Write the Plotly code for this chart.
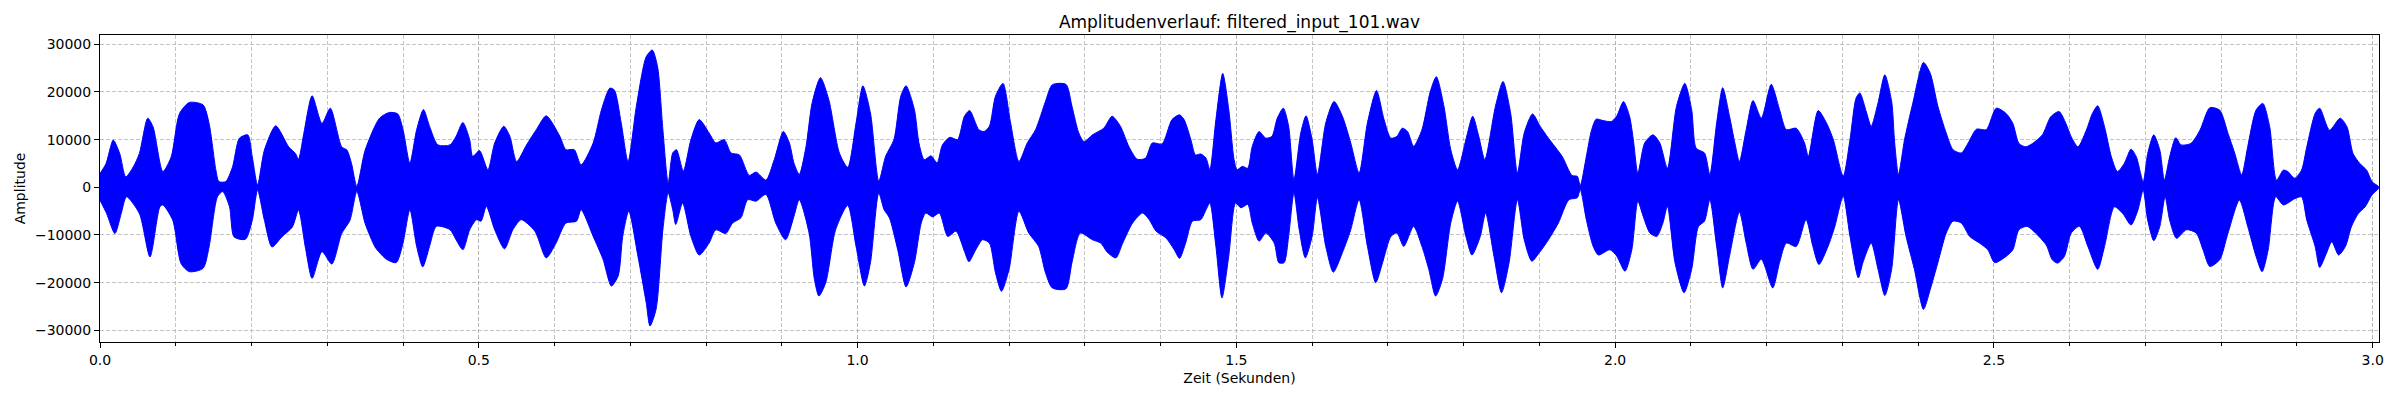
import plotly.graph_objects as go

# Hüllkurve des Signals (obere Spitzen), Zeit in Sekunden
t_upper = [0.000, 0.008, 0.0175, 0.026, 0.034, 0.044, 0.052, 0.063, 0.070, 0.083, 0.094, 0.105, 0.118, 0.136, 0.144,
           0.153, 0.157, 0.166, 0.175, 0.184, 0.195, 0.201, 0.208, 0.217, 0.232, 0.249, 0.258, 0.262, 0.269, 0.280,
           0.293, 0.304, 0.319, 0.326, 0.332, 0.339, 0.350, 0.369, 0.382, 0.393, 0.400, 0.409, 0.418, 0.427, 0.435,
           0.446, 0.462, 0.470, 0.479, 0.488, 0.492, 0.501, 0.512, 0.521, 0.533, 0.541, 0.550, 0.563, 0.576, 0.589,
           0.607, 0.615, 0.626, 0.635, 0.651, 0.662, 0.673, 0.679, 0.688, 0.697, 0.708, 0.721, 0.729, 0.736, 0.743,
           0.750, 0.756, 0.761, 0.770, 0.780, 0.791, 0.804, 0.813, 0.824, 0.833, 0.844, 0.857, 0.866, 0.879, 0.890,
           0.902, 0.910, 0.916, 0.923, 0.932, 0.940, 0.951, 0.962, 0.976, 0.987, 0.998, 1.007, 1.017, 1.028, 1.037,
           1.048, 1.057, 1.064, 1.075, 1.081, 1.088, 1.097, 1.105, 1.112, 1.122, 1.132, 1.141, 1.148, 1.160, 1.167,
           1.174, 1.182, 1.192, 1.202, 1.213, 1.224, 1.235, 1.248, 1.257, 1.275, 1.283, 1.292, 1.299, 1.310, 1.325,
           1.336, 1.347, 1.358, 1.369, 1.380, 1.389, 1.402, 1.415, 1.425, 1.431, 1.440, 1.446, 1.453, 1.460, 1.465,
           1.473, 1.482, 1.490, 1.497, 1.501, 1.508, 1.515, 1.521, 1.530, 1.539, 1.547, 1.554, 1.562, 1.569, 1.576,
           1.585, 1.592, 1.600, 1.607, 1.618, 1.629, 1.640, 1.651, 1.662, 1.673, 1.685, 1.695, 1.704, 1.712, 1.719,
           1.726, 1.734, 1.745, 1.756, 1.764, 1.774, 1.783, 1.792, 1.803, 1.812, 1.820, 1.828, 1.842, 1.852, 1.862,
           1.871, 1.880, 1.891, 1.901, 1.912, 1.930, 1.943, 1.950, 1.954, 1.962, 1.969, 1.975, 1.984, 1.995, 2.002,
           2.011, 2.019, 2.024, 2.030, 2.039, 2.050, 2.059, 2.069, 2.081, 2.092, 2.101, 2.107, 2.118, 2.125, 2.134,
           2.142, 2.151, 2.158, 2.164, 2.173, 2.182, 2.193, 2.206, 2.217, 2.226, 2.239, 2.250, 2.255, 2.268, 2.279,
           2.288, 2.301, 2.310, 2.318, 2.323, 2.332, 2.338, 2.347, 2.356, 2.365, 2.369, 2.374, 2.382, 2.393, 2.407,
           2.416, 2.426, 2.437, 2.446, 2.457, 2.466, 2.477, 2.490, 2.503, 2.516, 2.525, 2.533, 2.542, 2.551, 2.564,
           2.575, 2.586, 2.595, 2.602, 2.611, 2.622, 2.630, 2.637, 2.646, 2.655, 2.663, 2.672, 2.681, 2.688, 2.697,
           2.703, 2.711, 2.719, 2.725, 2.732, 2.740, 2.747, 2.760, 2.772, 2.785, 2.798, 2.809, 2.818, 2.827, 2.835,
           2.846, 2.855, 2.864, 2.873, 2.882, 2.888, 2.897, 2.906, 2.913, 2.924, 2.930, 2.943, 2.957, 2.966, 2.974,
           2.983, 2.992, 2.999, 3.008]
a_upper = [2900, 5000, 9900, 7100, 2200, 4300, 7100, 14500, 12700, 3300, 6400, 15500, 17800, 17300, 13400,
           3600, 1200, 1200, 4300, 10300, 11000, 6400, 500, 7800, 12900, 8500, 7100, 5900, 11300, 19200,
           13400, 16600, 8500, 7800, 5000, 200, 7800, 14500, 15700, 15400, 12100, 5100, 12100, 16300, 12800,
           8900, 8900, 10700, 13600, 10000, 6500, 7700, 3700, 9300, 12800, 10700, 5400, 8900, 12100, 15000,
           10700, 7900, 7900, 4700, 9300, 16300, 20800, 20400, 13500, 5400, 17000, 27400, 28800, 25300, 12100,
           900, 7200, 7900, 3400, 10000, 14200, 11400, 9300, 10000, 7200, 6800, 2500, 3200, 1500, 5800,
           11700, 9300, 5100, 2700, 8600, 17700, 23000, 18400, 7200, 4200, 13500, 21300, 15600, 1300, 6500,
           10000, 19100, 21300, 16300, 9300, 5800, 6600, 5100, 8900, 10500, 10000, 14900, 16100, 12100, 11700,
           12800, 19100, 21800, 13500, 5400, 9300, 12100, 18000, 21500, 21600, 17000, 11400, 9600, 11000, 12400,
           14900, 12800, 8600, 5900, 6100, 9300, 9100, 14200, 15200, 14200, 10000, 6800, 7000, 6100, 3700,
           14200, 23900, 16300, 5800, 3700, 4400, 4000, 8600, 11700, 10300, 10700, 14500, 16600, 12800, 1600,
           11400, 15000, 10000, 2700, 13500, 18000, 14900, 9300, 3000, 13500, 20300, 14200, 10300, 10700, 12400,
           11700, 8600, 12100, 20100, 23200, 17000, 7900, 3700, 10000, 14900, 10700, 5800, 17000, 22200, 15600,
           3000, 11400, 15400, 12800, 10300, 6500, 2500, 2300, 400, 6500, 12100, 14300, 14000, 13800, 14900,
           18000, 14900, 10000, 3000, 9300, 11000, 9300, 4000, 17000, 21800, 16300, 8200, 7200, 2700, 13500,
           20900, 14900, 9300, 5400, 12100, 18200, 14500, 21600, 16300, 12100, 12400, 9300, 6500, 16100, 13500,
           10000, 2300, 10000, 18700, 19800, 15600, 12800, 17700, 23600, 18000, 9300, 2700, 10000, 17700, 26200,
           23900, 17000, 11400, 7900, 7200, 9300, 12200, 12100, 16600, 15500, 13400, 9200, 8500, 9200, 11000,
           14800, 15900, 13400, 10600, 8500, 12000, 15500, 17100, 12700, 6400, 3300, 5000, 8000, 6400, 1200,
           7100, 11000, 7800, 1500, 6400, 10400, 8900, 9200, 12000, 16700, 16200, 11300, 7100, 2600, 8500,
           16200, 17600, 12700, 1500, 3600, 3300, 1900, 3600, 8500, 15500, 16600, 12000, 14500, 12700, 7100,
           5000, 3600, 1200, 100]

# Hüllkurve des Signals (untere Spitzen)
t_lower = [0.000, 0.0087, 0.0197, 0.028, 0.035, 0.052, 0.066, 0.079, 0.083, 0.096, 0.107, 0.118, 0.136, 0.144, 0.155,
           0.162, 0.171, 0.177, 0.192, 0.201, 0.208, 0.217, 0.227, 0.240, 0.254, 0.262, 0.271, 0.280, 0.293, 0.306,
           0.319, 0.330, 0.339, 0.350, 0.363, 0.369, 0.378, 0.391, 0.400, 0.409, 0.418, 0.426, 0.435, 0.444, 0.462,
           0.470, 0.479, 0.488, 0.497, 0.503, 0.510, 0.521, 0.534, 0.545, 0.556, 0.574, 0.589, 0.602, 0.615, 0.629,
           0.635, 0.651, 0.664, 0.675, 0.684, 0.690, 0.698, 0.710, 0.721, 0.726, 0.734, 0.743, 0.750, 0.756, 0.760,
           0.769, 0.780, 0.791, 0.804, 0.813, 0.826, 0.835, 0.846, 0.855, 0.866, 0.879, 0.892, 0.905, 0.916, 0.923,
           0.936, 0.943, 0.949, 0.958, 0.971, 0.987, 0.998, 1.009, 1.017, 1.028, 1.035, 1.042, 1.053, 1.064, 1.075,
           1.084, 1.090, 1.099, 1.108, 1.119, 1.130, 1.141, 1.147, 1.156, 1.165, 1.174, 1.182, 1.190, 1.200, 1.213,
           1.226, 1.239, 1.248, 1.257, 1.275, 1.283, 1.294, 1.310, 1.321, 1.330, 1.341, 1.350, 1.363, 1.376, 1.385,
           1.394, 1.407, 1.418, 1.425, 1.433, 1.442, 1.453, 1.460, 1.465, 1.473, 1.481, 1.490, 1.499, 1.506, 1.515,
           1.521, 1.530, 1.539, 1.550, 1.556, 1.563, 1.569, 1.576, 1.583, 1.591, 1.600, 1.607, 1.618, 1.628, 1.640,
           1.651, 1.662, 1.673, 1.684, 1.693, 1.704, 1.712, 1.721, 1.734, 1.745, 1.754, 1.763, 1.772, 1.783, 1.792,
           1.803, 1.811, 1.822, 1.829, 1.840, 1.850, 1.860, 1.871, 1.880, 1.890, 1.900, 1.912, 1.925, 1.939, 1.950,
           1.954, 1.962, 1.971, 1.978, 1.993, 2.002, 2.013, 2.022, 2.030, 2.037, 2.046, 2.055, 2.063, 2.069, 2.079,
           2.091, 2.101, 2.110, 2.118, 2.125, 2.134, 2.142, 2.151, 2.164, 2.173, 2.182, 2.193, 2.208, 2.217, 2.226,
           2.239, 2.252, 2.261, 2.269, 2.281, 2.290, 2.301, 2.310, 2.321, 2.327, 2.338, 2.347, 2.356, 2.365, 2.374,
           2.384, 2.395, 2.407, 2.416, 2.426, 2.437, 2.446, 2.457, 2.468, 2.481, 2.492, 2.501, 2.516, 2.525, 2.533,
           2.544, 2.555, 2.569, 2.577, 2.584, 2.593, 2.602, 2.613, 2.624, 2.637, 2.646, 2.659, 2.670, 2.681, 2.690,
           2.697, 2.703, 2.711, 2.719, 2.726, 2.732, 2.741, 2.754, 2.767, 2.776, 2.785, 2.798, 2.809, 2.824, 2.835,
           2.846, 2.854, 2.862, 2.872, 2.882, 2.897, 2.906, 2.913, 2.924, 2.930, 2.939, 2.946, 2.955, 2.964, 2.972,
           2.981, 2.990, 2.999, 3.008]
a_lower = [-2700, -5500, -9700, -5500, -2000, -5500, -14600, -4100, -3700, -6900, -16000, -17700, -17000, -12500, -2000,
           -900, -4100, -10400, -10900, -6900, -600, -6900, -12500, -10400, -8300, -4800, -12500, -19100, -13500, -16100,
           -9700, -6900, -900, -7600, -12500, -13700, -15100, -15800, -11700, -4700, -12400, -16700, -12400, -8200, -8900,
           -11000, -13100, -8900, -6800, -7100, -4000, -8900, -12900, -8900, -6800, -9200, -14800, -11700, -7500, -7100,
           -4700, -10300, -15100, -20700, -18600, -10300, -5000, -14400, -24200, -29100, -25600, -8900, -1200, -4700, -7800,
           -3300, -10300, -14200, -11700, -8900, -9700, -7500, -6400, -2600, -2900, -1500, -7500, -11000, -6100, -2600,
           -9600, -19300, -22800, -20000, -8900, -3800, -12400, -20700, -15800, -1200, -4700, -6400, -13100, -20900, -15800,
           -7500, -5400, -6200, -5400, -10300, -9200, -13400, -15600, -13100, -11000, -11700, -17900, -21800, -17200, -5000,
           -9600, -12400, -17900, -21100, -21300, -15800, -9600, -11000, -11700, -13700, -14800, -11700, -7500, -5400, -6800,
           -9200, -10600, -13100, -14900, -11700, -7100, -6800, -4700, -3300, -12400, -23200, -14400, -3300, -4300, -3600,
           -7500, -11300, -9600, -11700, -15800, -15800, -10300, -1200, -8900, -14800, -10300, -2200, -12400, -17800, -13700,
           -8900, -2600, -12400, -20000, -15800, -10300, -9600, -12400, -8200, -12400, -17200, -22800, -19300, -7500, -2900,
           -10300, -14200, -10300, -5400, -14400, -22100, -15800, -2600, -11000, -15500, -13700, -11000, -7500, -2600, -2200,
           -500, -6800, -12400, -14200, -13100, -14400, -17600, -13100, -2900, -6100, -9600, -10300, -7500, -4000, -15800,
           -22100, -17200, -8200, -7100, -2600, -12400, -21100, -14400, -5200, -11700, -17200, -15100, -21100, -15800, -11700,
           -12400, -6800, -12400, -16200, -12400, -8200, -1900, -10300, -19000, -15800, -11700, -17200, -22700, -17200, -2600,
           -10300, -17200, -25600, -21400, -15800, -9600, -7100, -7500, -10300, -11700, -13100, -15800, -14500, -13100, -8900,
           -8200, -9600, -12100, -15200, -15900, -14500, -9600, -8200, -12400, -17200, -12400, -4100, -5500, -7900, -4800,
           -600, -6900, -11200, -8200, -2000, -6900, -10700, -8900, -9600, -13100, -16600, -15200, -9600, -2700, -8200,
           -14500, -17700, -13100, -2000, -3700, -2400, -2000, -6900, -12400, -16800, -13800, -11400, -14200, -12400, -8200,
           -5500, -4100, -1600, -200]

x_ticks = [0.0, 0.5, 1.0, 1.5, 2.0, 2.5, 3.0]
y_ticks = [-30000, -20000, -10000, 0, 10000, 20000, 30000]

# geschlossene Fläche: oben vorwärts, unten rückwärts
poly_x = t_upper + t_lower[::-1]
poly_y = a_upper + a_lower[::-1]

fig = go.Figure()
fig.add_trace(go.Scatter(
    x=poly_x, y=poly_y,
    mode='lines',
    fill='toself',
    fillcolor='#0000ff',
    line=dict(color='#0000ff', width=1, shape='spline', smoothing=0.7),
    hoverinfo='skip',
    showlegend=False,
))

axis_font = dict(family='DejaVu Sans', size=14, color='black')
grid_col = 'rgba(176,176,176,0.75)'
grid_dash = '4px,2px'

fig.update_xaxes(
    range=[0, 3.0083],
    tickvals=x_ticks,
    ticktext=['%.1f' % v for v in x_ticks],
    ticks='outside', ticklen=5, tickwidth=1, tickcolor='black',
    showline=True, linecolor='black', linewidth=1, mirror=True,
    showgrid=True, gridcolor=grid_col, griddash=grid_dash, gridwidth=1,
    minor=dict(dtick=0.1, tick0=0, ticks='outside', ticklen=3, tickcolor='black',
               showgrid=True, gridcolor=grid_col, griddash=grid_dash, gridwidth=1),
    zeroline=False,
    automargin=False,
    tickfont=axis_font,
    title=dict(text='Zeit (Sekunden)', font=axis_font, standoff=6),
)
fig.update_yaxes(
    range=[-32450, 31950],
    tickvals=y_ticks,
    ticktext=[str(v).replace('-', '\u2212') for v in y_ticks],
    ticks='outside', ticklen=5, tickwidth=1, tickcolor='black',
    showline=True, linecolor='black', linewidth=1, mirror=True,
    showgrid=True, gridcolor=grid_col, griddash=grid_dash, gridwidth=1,
    zeroline=False,
    automargin=False,
    tickfont=axis_font,
    title=dict(text='Amplitude', font=axis_font, standoff=6),
)

fig.update_layout(
    width=2400, height=400,
    margin=dict(l=100, r=21, t=35, b=58),
    paper_bgcolor='white', plot_bgcolor='white',
    title=dict(text='Amplitudenverlauf: filtered_input_101.wav',
               font=dict(family='DejaVu Sans', size=17, color='black'),
               x=0.5, xref='paper', xanchor='center',
               y=1 - 22 / 400, yanchor='middle'),
    font=dict(family='DejaVu Sans'),
)

# Seitenrand des Browsers entfernen, damit die Grafik bei (0,0) beginnt
fig.write_html("out.html", config={'displayModeBar': False},
               post_script="document.body.style.margin='0';")
